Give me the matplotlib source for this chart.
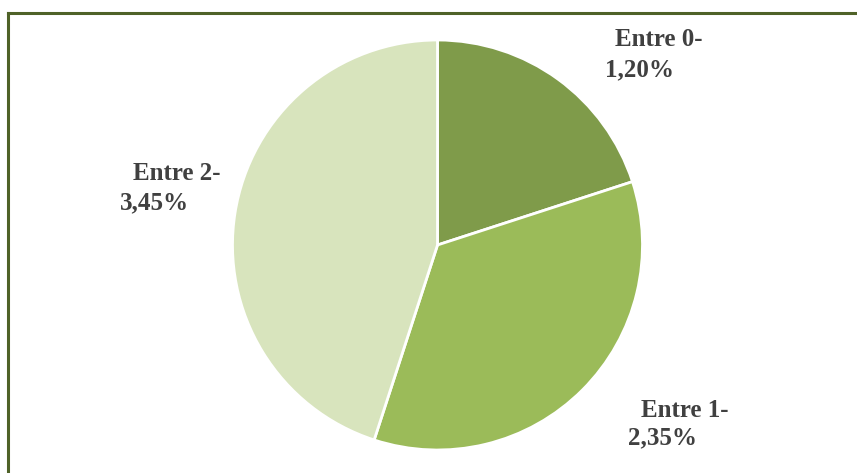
import matplotlib
matplotlib.use("Agg")
import matplotlib.pyplot as plt
from matplotlib.lines import Line2D

# slice shares (percent), drawn clockwise from 12 o'clock
categories = ["Entre 0-1,20%", "Entre 1-2,35%", "Entre 2-3,45%"]
shares = [20, 35, 45]
colors = ["#7f9b4a", "#9bbb59", "#d8e4bd"]

# label lines (two lines each, as in the original)
label_lines = [("Entre 0-", "1,20%"), ("Entre 1-", "2,35%"), ("Entre 2-", "3,45%")]

W, H = 857, 473
fig = plt.figure(figsize=(W / 100, H / 100), dpi=100)

# pie: centre ~ (437.5, 245) px, radius ~205 px
cx, cy, r = 437.5, 245, 205
ax = fig.add_axes([(cx - r) / W, (H - cy - r) / H, 2 * r / W, 2 * r / H])
ax.pie(shares, colors=colors, startangle=90, counterclock=False,
       wedgeprops=dict(edgecolor="white", linewidth=2))
ax.set_xlim(-1, 1)
ax.set_ylim(-1, 1)
ax.set_aspect("equal")
ax.axis("off")

# border (only top and left are visible in the crop)
bc = "#4f6228"
fig.add_artist(Line2D([8 / W, 1.0], [1 - 13 / H, 1 - 13 / H], color=bc, lw=2.2,
                      transform=fig.transFigure))
fig.add_artist(Line2D([8 / W, 8 / W], [0.0, 1 - 13 / H], color=bc, lw=2.2,
                      transform=fig.transFigure))

# label positions in pixels (left x of each line, y centre)
pos = [((615, 40), (605, 70)),
       ((641, 410), (628, 438)),
       ((133, 173), (120, 203))]

font = dict(family="Liberation Serif", fontweight="bold", fontsize=18, color="#404040")
for (l1, l2), ((x1, y1), (x2, y2)) in zip(label_lines, pos):
    fig.text(x1 / W, 1 - y1 / H, l1, ha="left", va="center", **font)
    fig.text(x2 / W, 1 - y2 / H, l2, ha="left", va="center", **font)

fig.savefig("out.png", dpi=100, facecolor="white")
